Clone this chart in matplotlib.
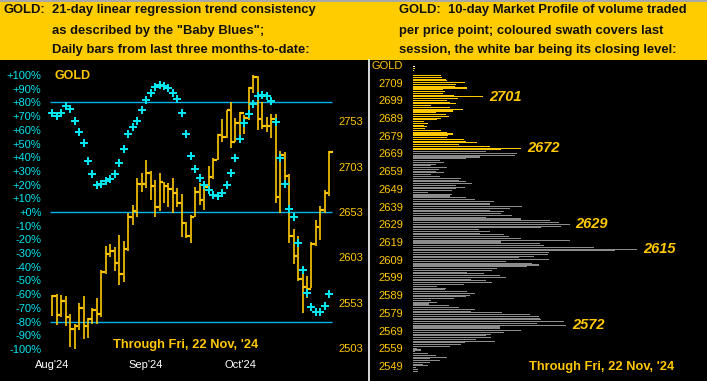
import numpy as np
import matplotlib
matplotlib.use("Agg")
import matplotlib.pyplot as plt
from matplotlib.patches import Rectangle
from matplotlib.lines import Line2D

plt.rcParams['font.family'] = ['Liberation Sans', 'DejaVu Sans']

# ---- left panel: daily bars (high / low / close) ----
highs = [2561.5, 2563, 2562, 2560, 2540, 2530, 2553, 2560, 2536, 2547, 2558,
         2589, 2615.5, 2618, 2614, 2628, 2621, 2651.5, 2661, 2690, 2695.6, 2710,
         2698, 2688, 2696, 2686, 2685, 2691, 2680, 2673, 2642, 2650, 2681,
         2685, 2686, 2704, 2713, 2739, 2756, 2766, 2774, 2757, 2763,
         2760, 2790.5, 2804, 2803, 2774, 2758, 2761, 2761, 2720, 2719.5,
         2695, 2634, 2626, 2586, 2582, 2619.6, 2644, 2660, 2677, 2720]
lows = [2538, 2528, 2537, 2527, 2504.5, 2502, 2523, 2513, 2514, 2529, 2529,
        2537.6, 2585, 2603, 2588, 2573, 2576, 2610, 2639, 2648, 2675, 2679,
        2666, 2647, 2654, 2663, 2659, 2652, 2659, 2625, 2624, 2619, 2648,
        2661, 2655, 2675, 2689, 2710, 2730.5, 2735, 2724, 2730.5, 2731,
        2739, 2754, 2784.5, 2743, 2745, 2741.5, 2735, 2662.6, 2651.6, 2688,
        2618.5, 2596, 2577, 2542, 2558.5, 2569, 2615, 2622, 2652, 2671]
closes = [2560, 2539, 2555, 2537, 2524, 2527, 2547.5, 2527, 2535, 2545, 2540,
          2587, 2607, 2610, 2597, 2585, 2612, 2648, 2654.5, 2683.5, 2683.5, 2695.6,
          2682, 2658, 2686, 2682, 2678, 2674, 2663, 2641, 2627, 2648, 2675,
          2666, 2681, 2692, 2710, 2738, 2736, 2765.5, 2730.5, 2751, 2762.5,
          2757, 2790, 2802, 2755.5, 2748, 2748, 2755.5, 2669, 2716, 2693,
          2627, 2605, 2579, 2570.6, 2568, 2618, 2637, 2655, 2674, 2719.5]
# "Baby Blues" trend consistency, %
baby_blues = [72, 70.3, 72.5, 77.6, 75.2, 66.7, 58.6, 50.6, 37.5, 28,
              20, 20.7, 22.8, 23.8, 28, 35.8, 46, 57.2, 62.3, 66.7,
              74.5, 82, 87.1, 91, 92.9, 92.2, 90.5, 87.1, 82.7, 72.5,
              57.2, 41.1, 31.2, 25, 19.7, 16.1, 12.6, 11.4, 14.1, 20,
              28.7, 39.6, 53.3, 65.2, 71.3, 78.6, 84.5, 85.6, 84.9, 81.2,
              65.5, 39.6, 20.7, 2.4, -4, -22.4, -42.1, -58.9, -69.3, -73.2,
              -73.2, -68.8, -59.6]
month_labels = ["Aug'24", "Sep'24", "Oct'24"]
month_pos = [0, 21, 42]
pct_ticks = list(range(-100, 101, 10))
price_ticks = [2503, 2553, 2603, 2653, 2703, 2753]

# ---- right panel: 10-day market profile ----
profile_top = 2718
profile_volume = [6, 6, 4, 0, 0, 83, 86, 98, 102, 155,
                  128, 125, 163, 90, 95, 90, 122, 210, 134, 102,
                  110, 130, 55, 112, 151, 120, 68, 98, 108, 84,
                  73, 33, 46, 32, 43, 35, 83, 103, 121, 105,
                  102, 152, 158, 192, 137, 230, 325, 265,
                  218, 313, 305, 202, 158, 82, 92, 68, 55, 103,
                  78, 70, 92, 53, 80, 145, 137, 160, 178, 128,
                  155, 130, 118, 45, 116, 110, 160, 185, 242, 232,
                  230, 328, 292, 230, 272, 265, 298, 220, 323, 410,
                  437, 470, 445, 383, 198, 230, 200, 272, 288, 323,
                  470, 265, 380, 392, 542, 673, 605, 408, 405, 362,
                  318, 408, 280, 358, 377, 343, 252, 238, 163, 212,
                  262, 280, 175, 220, 238, 152, 73, 98, 97, 163,
                  185, 172, 158, 123, 53, 72, 48, 107, 137, 185,
                  175, 268, 352, 378, 380, 383, 452, 373, 460, 260,
                  260, 323, 272, 235, 218, 235, 188, 245, 157, 145,
                  112, 12, 23, 5, 45, 68, 103, 50, 82, 50,
                  30, 45, 10, 15, 15]
session_low = 2671
session_close = 2718
peak_prices = [2701, 2672, 2629, 2615, 2572]
profile_ticks = list(range(2549, 2710, 10))

GOLD = '#FFC800'
BAND = '#FFCC00'
CYAN = '#00E5EE'
LINE = '#00B4F0'
GREY = '#8C8C8C'

W, H = 707, 381


def fx(x):
    return x / W


def fy(y):
    return 1 - y / H


fig = plt.figure(figsize=(W / 100, H / 100), dpi=100, facecolor='black')

# title band
fig.patches.append(Rectangle((0, fy(60)), 1, 60 / H, transform=fig.transFigure,
                             facecolor=BAND, edgecolor='none', zorder=0))
fig.patches.append(Rectangle((0, fy(2)), 1, 2 / H, transform=fig.transFigure,
                             facecolor='#A8A8A8', edgecolor='none', zorder=1))
tkw = dict(fontsize=9.4, fontweight='bold', color='#111111', va='center')
fig.text(fx(4), fy(10), "GOLD:", **tkw)
fig.text(fx(52), fy(10), "21-day linear regression trend consistency", **tkw)
fig.text(fx(52), fy(31), "as described by the \"Baby Blues\";", **tkw)
fig.text(fx(52), fy(50), "Daily bars from last three months-to-date:", **tkw)
fig.text(fx(399), fy(10), "GOLD:  10-day Market Profile of volume traded", **tkw)
fig.text(fx(399), fy(31), "per price point; coloured swath covers last", **tkw)
fig.text(fx(399), fy(50), "session, the white bar being its closing level:", **tkw)

# separator
fig.add_artist(Line2D([fx(369), fx(369)], [fy(60), 0], color='white', lw=1.2))

# ---- left panel ----
scale = 1.5104  # price per percent point
ax1 = fig.add_axes([fx(45), 0, 290 / W, fy(60)])
ax1.set_facecolor('black')
ax1.set_xlim(-1.63, 63.27)
ax1.set_ylim(-123.36, 110.95)
for s in ax1.spines.values():
    s.set_visible(False)
ax1.set_xticks([])
ax1.set_yticks(pct_ticks)
ax1.set_yticklabels([("+%d%%" % t) if t >= 0 else ("%d%%" % t) for t in pct_ticks])
ax1.tick_params(axis='y', length=0, pad=2.5, labelsize=8, labelcolor=CYAN)

ax2 = ax1.twinx()
ax2.set_ylim(2653 - scale * 123.36, 2653 + scale * 110.95)
for s in ax2.spines.values():
    s.set_visible(False)
ax2.set_yticks(price_ticks)
ax2.tick_params(axis='y', length=0, pad=2.5, labelsize=8, labelcolor=GOLD)

for lvl in (80, 0, -80):
    ax1.hlines(lvl, -0.5, 62.5, color=LINE, lw=1.0, zorder=2)

idx = np.arange(len(closes))
ax2.vlines(idx, lows, highs, color=GOLD, lw=1.2, zorder=3)
ax2.hlines(closes, idx, idx + 0.8, color=GOLD, lw=1.6, zorder=3)
ax2.plot(idx, 2653 + scale * np.array(baby_blues), linestyle='none', marker='P',
         markersize=5.4, markeredgewidth=0, color=CYAN, zorder=4)

for p, lab in zip(month_pos, month_labels):
    ax1.text(p, -111.7, lab, color='white', fontsize=8, ha='center', va='center')

fig.text(fx(55), fy(76), "GOLD", color=GOLD, fontsize=9, fontweight='bold', va='center')
fig.text(fx(186), fy(345), "Through Fri, 22 Nov, '24", color=GOLD, fontsize=9.3,
         fontweight='bold', ha='center', va='center')

# ---- right panel ----
ax3 = fig.add_axes([fx(413), 0, (W - 413) / W, fy(60)])
ax3.set_facecolor('black')
ax3.set_xlim(0, 882)
ax3.set_ylim(2540.5, 2721.8)
for s in ax3.spines.values():
    s.set_visible(False)
ax3.set_xticks([])
ax3.set_yticks(profile_ticks)
ax3.tick_params(axis='y', length=0, pad=7, labelsize=8, labelcolor=GOLD)

prices = profile_top - np.arange(len(profile_volume))
colors = []
for p in prices:
    if p == session_close:
        colors.append('white')
    elif p >= session_low:
        colors.append(GOLD)
    else:
        colors.append(GREY)
ax3.barh(prices, profile_volume, height=0.6, color=colors, left=0)

vol_at = dict(zip(prices, profile_volume))
for p in peak_prices:
    ax3.text(vol_at[p] + 18, p, str(p), color=GOLD, fontsize=10.5, fontweight='bold',
             fontstyle='italic', ha='left', va='center')

fig.text(fx(403), fy(66), "GOLD", color=GOLD, fontsize=8, ha='right', va='center')
fig.text(fx(602), fy(367), "Through Fri, 22 Nov, '24", color=GOLD, fontsize=9.3,
         fontweight='bold', ha='center', va='center')

fig.savefig("out.png", dpi=100, facecolor='black')
